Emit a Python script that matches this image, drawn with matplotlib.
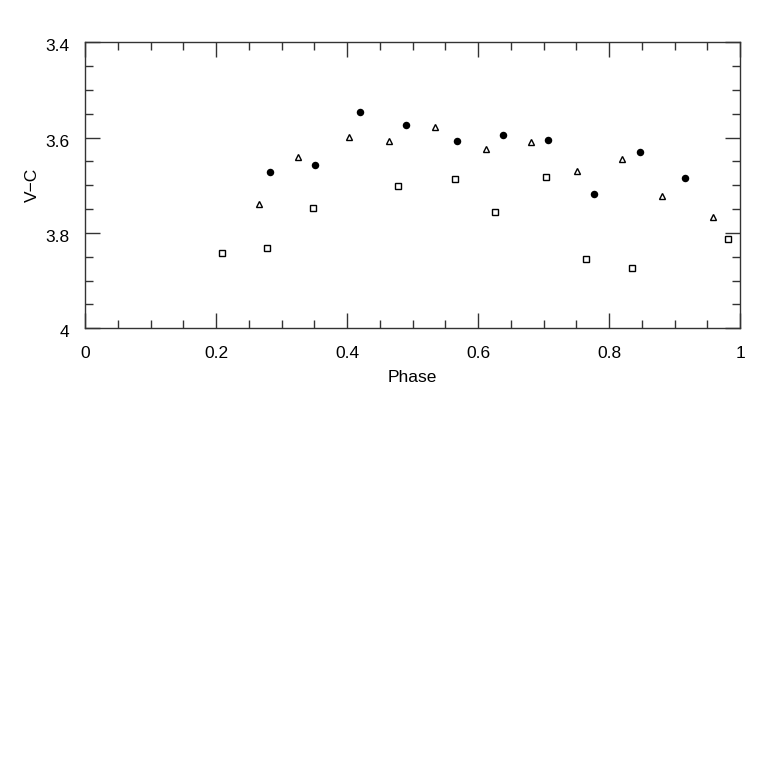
import numpy as np
import matplotlib
matplotlib.use('Agg')
import matplotlib.pyplot as plt
import matplotlib.transforms as mtransforms
from matplotlib.ticker import MultipleLocator, FuncFormatter

plt.rcParams['font.family'] = ['Liberation Sans', 'DejaVu Sans']

# filled circles
phase_dot = [0.2824, 0.3511, 0.4203, 0.4901, 0.5684, 0.6377, 0.7073, 0.7766, 0.8469, 0.9160]
vc_dot = [3.673, 3.657, 3.547, 3.573, 3.608, 3.594, 3.605, 3.718, 3.631, 3.685]

# open triangles
phase_tri = [0.2656, 0.3257, 0.4035, 0.4646, 0.5344, 0.6122, 0.6814, 0.7511, 0.8203, 0.8809, 0.9592]
vc_tri = [3.740, 3.641, 3.599, 3.608, 3.577, 3.624, 3.610, 3.669, 3.645, 3.722, 3.766]

# open squares
phase_sq = [0.2096, 0.2783, 0.3476, 0.4776, 0.5653, 0.6260, 0.7038, 0.7653, 0.8351, 0.9821]
vc_sq = [3.841, 3.831, 3.748, 3.701, 3.687, 3.757, 3.682, 3.854, 3.873, 3.812]

fig = plt.figure(figsize=(7.81, 7.81), dpi=100)
ax = fig.add_axes([85 / 781, 1 - 328.3 / 781, 655 / 781, 286 / 781])

ax.plot(phase_dot, vc_dot, 'o', color='black', ms=5.4, mew=0)
ax.plot(phase_tri, vc_tri, '^', mfc='white', mec='black', ms=4.3, mew=1.0)
ax.plot(phase_sq, vc_sq, 's', mfc='white', mec='black', ms=3.8, mew=1.0)

ax.set_xlim(0, 1)
ax.set_ylim(4, 3.4)
ax.xaxis.set_major_locator(MultipleLocator(0.2))
ax.xaxis.set_minor_locator(MultipleLocator(0.05))
ax.yaxis.set_major_locator(MultipleLocator(0.2))
ax.yaxis.set_minor_locator(MultipleLocator(0.05))
ax.xaxis.set_major_formatter(FuncFormatter(lambda v, p: f'{v:g}'))
ax.yaxis.set_major_formatter(FuncFormatter(lambda v, p: f'{v:g}'))

ax.tick_params(which='both', direction='in', top=True, right=True,
               color='#333333', width=1.0, labelsize=12.5)
ax.tick_params(which='major', length=11)
ax.tick_params(which='minor', length=6)
ax.tick_params(axis='x', which='major', pad=13)
ax.tick_params(axis='y', which='major', pad=11)
for s in ax.spines.values():
    s.set_linewidth(1.0)
    s.set_color('#333333')

# y tick labels sit a little below their ticks in the original
shift = mtransforms.ScaledTranslation(0, -3 / 100, fig.dpi_scale_trans)
for lbl in ax.get_yticklabels():
    lbl.set_transform(lbl.get_transform() + shift)

ax.set_xlabel('Phase', fontsize=12.5, labelpad=6)
ax.set_ylabel('V\u2212C', fontsize=12.5, labelpad=4)

fig.savefig('out.png', dpi=100)
